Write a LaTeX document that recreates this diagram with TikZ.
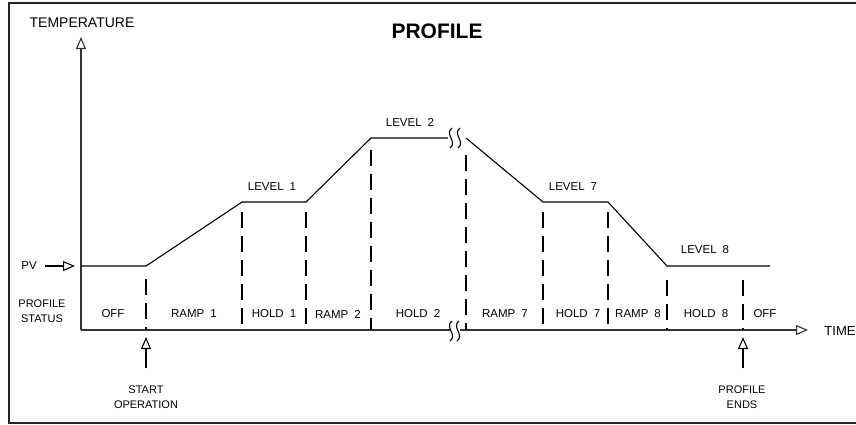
\documentclass[tikz,border=0pt]{standalone}
\usepackage{fontspec}
\setmainfont{Liberation Sans}
\usetikzlibrary{arrows.meta}
\tikzset{
 ln/.style={line width=1.1pt},
 ax/.style={line width=1.5pt, black!80},
 frm/.style={line width=2pt, black!85},
 dsh/.style={line width=1.1pt, dash pattern=on 16pt off 8pt},
 opentip/.style={-{Triangle[open,length=12pt,width=10pt,line width=1.1pt]}},
 lbl/.style={font=\fontsize{11.5}{13}\selectfont, inner sep=0pt},
 big/.style={font=\fontsize{14}{16}\selectfont, inner sep=0pt},
 small/.style={font=\fontsize{11}{15}\selectfont, inner sep=0pt, align=center},
 ttl/.style={font=\fontsize{21}{24}\selectfont\bfseries, inner sep=0pt},
}
\newcommand{\wsp}{\hspace{6pt}}
\begin{document}
\begin{tikzpicture}[x=1pt,y=-1pt]
\useasboundingbox (0,0) rectangle (856,424);
% frame
\draw[frm] (858,3) -- (9,3) -- (9,423) -- (858,423);
% title
\node[ttl] (title) at (437,31) {PROFILE};
% axes
\coordinate (origin) at (81,330);
\coordinate (ytip) at (81,37);
\coordinate (xtip) at (808,330);
\coordinate (brkL) at (450,330);
\coordinate (brkR) at (460,330);
\draw[ax,opentip] (origin) -- (ytip);
\draw[ax] (origin) -- (brkL);
\draw[ax,opentip] (brkR) -- (xtip);
\draw[ln] (452,321) .. controls (444,327) and (458,335) .. (450,341);
\draw[ln] (459,321) .. controls (451,327) and (465,335) .. (457,341);
\node[big] (temp) at (82,23) {TEMPERATURE};
\node[big,font=\fontsize{13}{15}\selectfont] (time) at (840,331) {TIME};
% PV
\node[lbl] (pv) at (29,266) {PV};
\coordinate (pva) at (45,266);
\coordinate (pvb) at (75,266);
\draw[ln,opentip] (pva) -- (pvb);
% profile curve
\coordinate (p0) at (81,266);
\coordinate (p1) at (146,266);
\coordinate (p2) at (242,202);
\coordinate (p3) at (306,202);
\coordinate (p4) at (371,138);
\coordinate (p5a) at (448,138);
\coordinate (p5b) at (466,138);
\coordinate (p6) at (543,202);
\coordinate (p7) at (608,202);
\coordinate (p8) at (667,266);
\coordinate (p9) at (770,266);
\draw[ln] (p0) -- (p1) -- (p2) -- (p3) -- (p4) -- (p5a);
\draw[ln] (p5b) -- (p6) -- (p7) -- (p8) -- (p9);
\draw[ln] (452,128) .. controls (444,134) and (458,142) .. (450,148);
\draw[ln] (460,128) .. controls (452,134) and (466,142) .. (458,148);
% dashed verticals
\foreach \x/\y in {146/279,242/212,306/212,371/150,466/155,543/212,608/212,667/280,743/280}{
  \draw[dsh] (\x,\y) -- (\x,330);
}
% level labels
\node[lbl] (l1) at (272,187) {LEVEL\wsp 1};
\node[lbl] (l2) at (410,122) {LEVEL\wsp 2};
\node[lbl] (l7) at (573,187) {LEVEL\wsp 7};
\node[lbl] (l8) at (705,250) {LEVEL\wsp 8};
% status labels
\node[small] (ps) at (42,311) {PROFILE\\STATUS};
\node[lbl] (s0) at (113,314) {OFF};
\node[lbl] (s1) at (194,314) {RAMP\wsp 1};
\node[lbl] (s2) at (274,314) {HOLD\wsp 1};
\node[lbl] (s3) at (338,314) {RAMP\wsp 2};
\node[lbl] (s4) at (418,314) {HOLD\wsp 2};
\node[lbl] (s5) at (505,314) {RAMP\wsp 7};
\node[lbl] (s6) at (578,314) {HOLD\wsp 7};
\node[lbl] (s7) at (638,314) {RAMP\wsp 8};
\node[lbl] (s8) at (706,314) {HOLD\wsp 8};
\node[lbl] (s9) at (765,314) {OFF};
% event arrows
\node[small] (start) at (146,397) {START\\OPERATION};
\node[small] (ends) at (742,397) {PROFILE\\ENDS};
\coordinate (sa) at (146,368);
\coordinate (sb) at (146,337);
\coordinate (ea) at (743,368);
\coordinate (eb) at (743,337);
\draw[ln,opentip] (sa) -- (sb);
\draw[ln,opentip] (ea) -- (eb);
\end{tikzpicture}
\end{document}
